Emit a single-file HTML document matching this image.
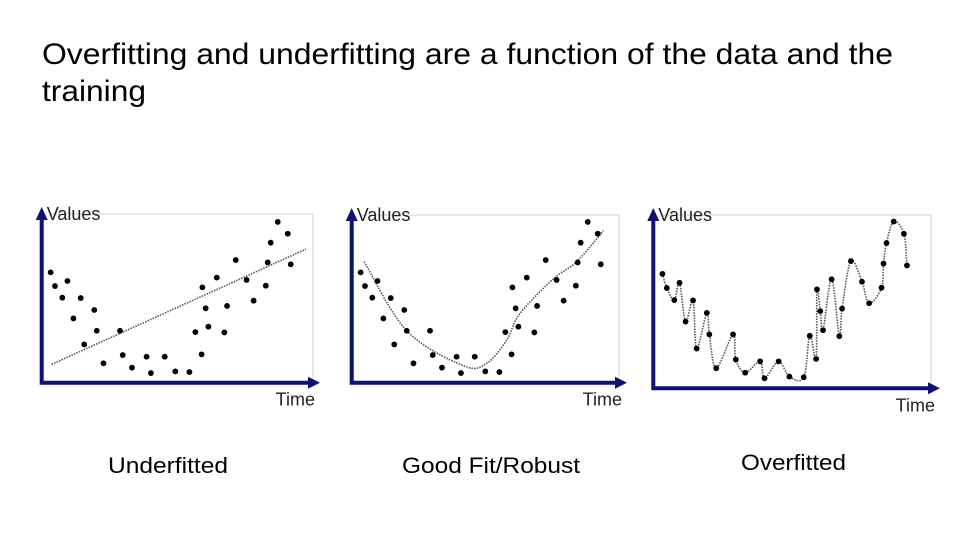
<!DOCTYPE html>
<html><head><meta charset="utf-8"><style>
html,body{margin:0;padding:0;background:#fff;}
svg{display:block;font-family:"Liberation Sans",Arial,sans-serif;}
</style></head><body>
<svg id="chart" width="960" height="540" viewBox="0 0 960 540">
<text x="42" y="64" font-size="30" fill="#000" textLength="851" lengthAdjust="spacingAndGlyphs">Overfitting and underfitting are a function of the data and the</text>
<text x="42" y="101" font-size="30" fill="#000" textLength="104" lengthAdjust="spacingAndGlyphs">training</text>
<g id="panels"></g>
<text x="108" y="473" font-size="22" textLength="120" lengthAdjust="spacingAndGlyphs">Underfitted</text>
<text x="402" y="473" font-size="22" textLength="178" lengthAdjust="spacingAndGlyphs">Good Fit/Robust</text>
<text x="741" y="470" font-size="22" textLength="105" lengthAdjust="spacingAndGlyphs">Overfitted</text>
</svg>
<script>
const pointTimes = [3.3,4.9,7.6,9.5,11.7,14.4,15.7,19.4,20.3,22.8,28.9,29.9,33.3,38.7,40.3,45.4,49.3,54.5,56.7,59.0,59.3,60.5,61.5,64.6,67.4,68.4,71.6,75.6,78.2,82.7,83.4,84.5,87.1,90.8,91.9];
const pointValues = [65.4,57.3,50.4,60.3,38.1,50.2,22.7,43.1,30.8,11.5,30.8,16.4,8.9,15.4,5.7,15.4,6.7,6.3,30.0,16.8,56.5,44.1,33.2,62.3,29.8,45.5,72.7,60.9,48.6,57.5,71.3,83.0,95.3,88.3,70.2];
const linearFit = [8.2, 0.728]; // intercept, slope
const lineStartEnd = [3.7, 97.5];
const goodFitTimes = [4.6,20.3,41.2,49.8,57.2,62.1,74.4,83.0,92.9];
const goodFitValues = [71.7,30.8,10.1,11.5,25.3,41.1,61.5,71.7,90.1];

const NS="http://www.w3.org/2000/svg";
const root=document.getElementById('panels');
function mk(tag,attrs,parent){const e=document.createElementNS(NS,tag);for(const k in attrs)e.setAttribute(k,attrs[k]);parent.appendChild(e);return e;}
function catmull(pts){
  let d=`M${pts[0][0].toFixed(1)},${pts[0][1].toFixed(1)}`;
  for(let i=0;i<pts.length-1;i++){
    const p0=pts[Math.max(0,i-1)],p1=pts[i],p2=pts[i+1],p3=pts[Math.min(pts.length-1,i+2)];
    const c1=[p1[0]+(p2[0]-p0[0])/6,p1[1]+(p2[1]-p0[1])/6];
    const c2=[p2[0]-(p3[0]-p1[0])/6,p2[1]-(p3[1]-p1[1])/6];
    d+=` C${c1[0].toFixed(1)},${c1[1].toFixed(1)} ${c2[0].toFixed(1)},${c2[1].toFixed(1)} ${p2[0].toFixed(1)},${p2[1].toFixed(1)}`;
  }
  return d;
}
const panels=[
  {name:'underfitted',x0:41.7,y0:382.7,sx:2.71,sy:1.687,right:313,top:214,arrowX:320,kind:'line'},
  {name:'good-fit',x0:351.7,y0:382.7,sx:2.71,sy:1.687,right:619,top:215,arrowX:627,kind:'smooth'},
  {name:'overfitted',x0:653.3,y0:388.3,sx:2.76,sy:1.75,right:931,top:215,arrowX:940,kind:'over'}
];
panels.forEach(p=>{
  const g=mk('g',{},root);
  
  
  const X=t=>p.x0+t*p.sx, Y=v=>p.y0-v*p.sy;
  const box=mk('path',{d:`M${p.x0+8},${p.top} H${p.right} V${p.y0}`,fill:'none',stroke:'#cfcfcf','stroke-width':1},g);
  
  
  const ax=mk('path',{d:`M${p.x0},${p.top+4} V${p.y0} H${p.arrowX-10}`,fill:'none',stroke:'#0d1277','stroke-width':4},g);
  
  
  const ah1=mk('polygon',{points:`${p.x0-6},${p.top+6} ${p.x0+6},${p.top+6} ${p.x0},${p.top-7}`,fill:'#0d1277'},g);
  
  
  const ah2=mk('polygon',{points:`${p.arrowX-12},${p.y0-6} ${p.arrowX-12},${p.y0+6} ${p.arrowX},${p.y0}`,fill:'#0d1277'},g);
  
  
  const yl=mk('text',{x:p.x0+5,y:p.top+6,'font-size':18,fill:'#222'},g); yl.textContent='Values';
  
  
  const xl=mk('text',{x:p.arrowX-5,y:p.y0+23,'font-size':18,fill:'#222','text-anchor':'end'},g); xl.textContent='Time';
  
  
  let d;
  if(p.kind==='line'){
    const a=lineStartEnd[0],b=lineStartEnd[1];
    d=`M${X(a)},${Y(linearFit[0]+linearFit[1]*a)} L${X(b)},${Y(linearFit[0]+linearFit[1]*b)}`;
  } else if(p.kind==='smooth'){
    d=catmull(goodFitTimes.map((t,i)=>[X(t),Y(goodFitValues[i])]));
  } else {
    d=catmull(pointTimes.map((t,i)=>[X(t),Y(pointValues[i])]));
  }
  const fit=mk('path',{d:d,fill:'none',stroke:'#555','stroke-width':1.6,'stroke-dasharray':'1.5 1.2'},g);
  
  
  pointTimes.forEach((t,i)=>{
    const c=mk('circle',{cx:X(t),cy:Y(pointValues[i]),r:2.9,fill:'#000'},g);
    
    
  });
});
</script>
</body></html>
